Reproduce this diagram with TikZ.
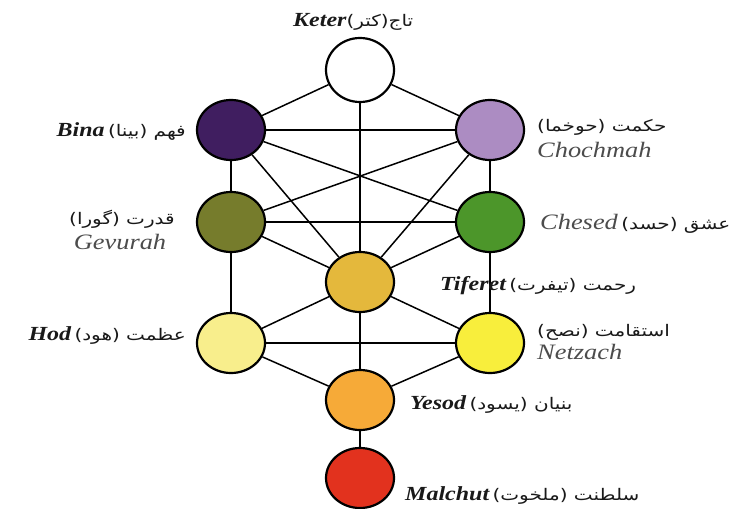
\documentclass[tikz,border=0pt]{standalone}
\usepackage{fontspec}
\usetikzlibrary{shapes.geometric,backgrounds}
\TeXXeTstate=1
\newfontfamily\latfont[FakeStretch=1.2]{Liberation Serif}
\newfontfamily\arabicfont[Script=Arabic,FakeStretch=1.25]{DejaVu Sans}
\newcommand\lat[1]{{\latfont\bfseries\itshape\fontsize{20}{24}\selectfont #1}}
\newcommand\latl[1]{{\latfont\itshape\fontsize{22}{24}\selectfont\color{black!70}#1}}
\newcommand\fa[1]{{\arabicfont\fontsize{16}{19}\selectfont\beginR #1\endR}}
\begin{document}
\begin{tikzpicture}[x=1pt,y=-1pt,
  sefira/.style={ellipse, draw=black, line width=2.2pt, minimum width=68pt, minimum height=60pt, inner sep=0pt},
  conn/.style={line width=1.5pt, draw=black},
  lbl/.style={inner sep=0pt, text=black!90}
]
\useasboundingbox (0,0) rectangle (735,508);
% sefirot
\node[sefira, fill=white, minimum height=64pt] (keter) at (360,70) {};
\node[sefira, fill={rgb,255:red,64;green,30;blue,96}] (bina) at (231,130) {};
\node[sefira, fill={rgb,255:red,172;green,140;blue,194}] (chochmah) at (490,130) {};
\node[sefira, fill={rgb,255:red,118;green,124;blue,44}] (gevurah) at (231,222) {};
\node[sefira, fill={rgb,255:red,76;green,150;blue,42}] (chesed) at (490,222) {};
\node[sefira, fill={rgb,255:red,228;green,184;blue,60}] (tiferet) at (360,282) {};
\node[sefira, fill={rgb,255:red,248;green,238;blue,140}] (hod) at (231,343) {};
\node[sefira, fill={rgb,255:red,248;green,238;blue,60}] (netzach) at (490,343) {};
\node[sefira, fill={rgb,255:red,246;green,170;blue,56}] (yesod) at (360,400) {};
\node[sefira, fill={rgb,255:red,226;green,50;blue,30}] (malchut) at (360,478) {};
% connectors
\begin{scope}[on background layer]
\fill[white] (0,0) rectangle (735,508);
\draw[conn] (keter) -- (bina);
\draw[conn] (keter) -- (chochmah);
\draw[conn] (keter) -- (tiferet);
\draw[conn] (bina) -- (chochmah);
\draw[conn] (bina) -- (gevurah);
\draw[conn] (chochmah) -- (chesed);
\draw[conn] (bina) -- (chesed);
\draw[conn] (chochmah) -- (gevurah);
\draw[conn] (bina) -- (tiferet);
\draw[conn] (chochmah) -- (tiferet);
\draw[conn] (gevurah) -- (chesed);
\draw[conn] (gevurah) -- (tiferet);
\draw[conn] (chesed) -- (tiferet);
\draw[conn] (gevurah) -- (hod);
\draw[conn] (chesed) -- (netzach);
\draw[conn] (tiferet) -- (hod);
\draw[conn] (tiferet) -- (netzach);
\draw[conn] (hod) -- (netzach);
\draw[conn] (tiferet) -- (yesod);
\draw[conn] (hod) -- (yesod);
\draw[conn] (netzach) -- (yesod);
\draw[conn] (yesod) -- (malchut);
\end{scope}
% labels
\node[lbl, anchor=base west] (tketer) at (293,27) {\lat{Keter}\fa{تاج(کتر)}};
\node[lbl, anchor=base east] (tbina) at (186,136) {\lat{Bina} \fa{فهم (بینا)}};
\node[lbl, anchor=base west] (tchoA) at (537,131) {\fa{حکمت (حوخما)}};
\node[lbl, anchor=base west] (tchoL) at (537,157) {\latl{Chochmah}};
\node[lbl, anchor=base] (tgevA) at (122,224) {\fa{قدرت (گورا)}};
\node[lbl, anchor=base] (tgevL) at (120,249) {\latl{Gevurah}};
\node[lbl, anchor=base west] (tchesed) at (540,229) {\latl{Chesed} \fa{عشق (حسد)}};
\node[lbl, anchor=base west] (ttiferet) at (440,290) {\lat{Tiferet} \fa{رحمت (تیفرت)}};
\node[lbl, anchor=base east] (thod) at (186,340) {\lat{Hod} \fa{عظمت (هود)}};
\node[lbl, anchor=base west] (tnetA) at (537,336) {\fa{استقامت (نصح)}};
\node[lbl, anchor=base west] (tnetL) at (537,359) {\latl{Netzach}};
\node[lbl, anchor=base west] (tyesod) at (410,409) {\lat{Yesod} \fa{بنیان (یسود)}};
\node[lbl, anchor=base west] (tmalchut) at (405,500) {\lat{Malchut} \fa{سلطنت (ملخوت)}};
\end{tikzpicture}
\end{document}
